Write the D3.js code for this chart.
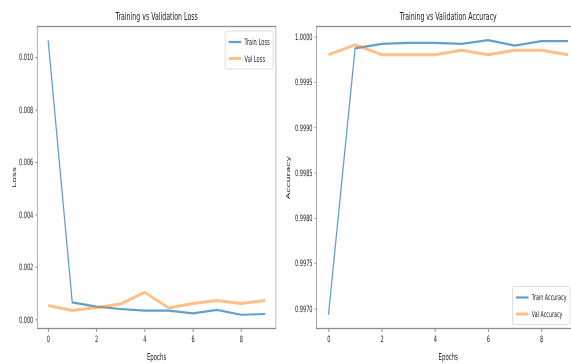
<!DOCTYPE html>
<html>
<head>
<meta charset="utf-8">
<script src="https://cdn.jsdelivr.net/npm/d3@7"></script>
<style>
    html, body { margin: 0; padding: 0; background: #ffffff; }
    svg { display: block; }
    text { font-family: "DejaVu Sans", sans-serif; fill: #222; }
</style>
</head>
<body>
<div id="chart"></div>
<script>
// data
var epochs = [0, 1, 2, 3, 4, 5, 6, 7, 8, 9];
var trainLoss = [0.01064, 0.00064, 0.00048, 0.00039, 0.00033, 0.00033, 0.00022, 0.00036, 0.00017, 0.00020];
var valLoss = [0.00052, 0.00033, 0.00045, 0.00058, 0.00103, 0.00043, 0.00060, 0.00071, 0.00060, 0.00071];
var trainAcc = [0.99693, 0.99987, 0.99992, 0.99993, 0.99993, 0.99992, 0.99996, 0.99990, 0.99995, 0.99995];
var valAcc = [0.99980, 0.99991, 0.99980, 0.99980, 0.99980, 0.99985, 0.99980, 0.99985, 0.99985, 0.99980];

var epochTicks = [0, 2, 4, 6, 8];
var lossTicks = [0.000, 0.002, 0.004, 0.006, 0.008, 0.010];
var accTicks = [0.9970, 0.9975, 0.9980, 0.9985, 0.9990, 0.9995, 1.0000];

var WIDTH = 571, HEIGHT = 364;
// the original figure is squeezed horizontally, so draw in a wider space and scale x
var SX = 0.57;
var TRAIN_COLOR = "#1f77b4", VAL_COLOR = "#ff7f0e";

var svg = d3.select("#chart").append("svg")
    .attr("width", WIDTH)
    .attr("height", HEIGHT);

var defs = svg.append("defs");
defs.append("filter").attr("id", "soft")
    .attr("x", "-5%").attr("y", "-5%").attr("width", "110%").attr("height", "110%")
    .append("feGaussianBlur").attr("stdDeviation", 0.45);

var root = svg.append("g").attr("filter", "url(#soft)")
    .append("g").attr("transform", "scale(" + SX + ",1)");

function padded(values) {
    var lo = d3.min(values), hi = d3.max(values);
    var pad = (hi - lo) * 0.05;
    return [lo - pad, hi + pad];
}

function drawPanel(opts) {
    var top = 26.5, bottom = 328.5;
    var x0 = opts.left / SX, x1 = opts.right / SX;
    var g = root.append("g");

    var x = d3.scaleLinear().domain([-0.45, 9.45]).range([x0, x1]);
    var y = d3.scaleLinear().domain(padded(opts.train.concat(opts.val))).range([bottom, top]);

    // axes
    var yAxis = g.append("g")
        .attr("transform", "translate(" + x0 + ",0)")
        .call(d3.axisLeft(y).tickValues(opts.ticks).tickSize(3.5).tickPadding(3.5)
            .tickFormat(d3.format(opts.fmt)));
    var xAxis = g.append("g")
        .attr("transform", "translate(0," + bottom + ")")
        .call(d3.axisBottom(x).tickValues(epochTicks).tickSize(3.5).tickPadding(3.5)
            .tickFormat(d3.format("d")));
    [yAxis, xAxis].forEach(function (a) {
        a.select(".domain").remove();
        a.selectAll("line").attr("stroke", "#777").attr("stroke-width", 1);
        a.selectAll("text").attr("font-size", 8.8).style("fill", "#222");
    });

    // lines
    var line = d3.line()
        .x(function (d, i) { return x(epochs[i]); })
        .y(function (d) { return y(d); });
    g.append("path").datum(opts.train)
        .attr("d", line)
        .attr("fill", "none")
        .attr("stroke", TRAIN_COLOR)
        .attr("stroke-opacity", 0.7)
        .attr("stroke-width", 2.2);
    g.append("path").datum(opts.val)
        .attr("d", line)
        .attr("fill", "none")
        .attr("stroke", VAL_COLOR)
        .attr("stroke-opacity", 0.5)
        .attr("stroke-width", 3);

    // spines
    g.append("rect")
        .attr("x", x0).attr("y", top)
        .attr("width", x1 - x0).attr("height", bottom - top)
        .attr("fill", "none")
        .attr("stroke", "#8c8c8c")
        .attr("stroke-width", 1.3);

    // titles and labels
    g.append("text")
        .attr("x", (x0 + x1) / 2).attr("y", 20.5)
        .attr("text-anchor", "middle")
        .attr("font-size", 11)
        .text(opts.title);
    g.append("text")
        .attr("x", (x0 + x1) / 2).attr("y", 360)
        .attr("text-anchor", "middle")
        .attr("font-size", 9.5)
        .text("Epochs");
    g.append("text")
        .attr("transform", "translate(" + opts.ylabelX / SX + "," + (top + bottom) / 2 + ") rotate(-90)")
        .attr("text-anchor", "middle")
        .attr("font-size", 9.5)
        .text(opts.ylabel);

    // legend
    var legH = 38, legX, legY;
    var items = [
        {label: opts.names[0], color: TRAIN_COLOR, op: 0.7, w: 2.2},
        {label: opts.names[1], color: VAL_COLOR, op: 0.5, w: 3}
    ];
    var leg = g.append("g");
    var box = leg.append("rect")
        .attr("rx", 2.5).attr("ry", 2.5)
        .attr("fill", "#ffffff").attr("fill-opacity", 0.85)
        .attr("stroke", "#d6d6d6").attr("stroke-width", 1);
    var maxW = 0;
    var texts = items.map(function (it, i) {
        var t = leg.append("text")
            .attr("font-size", opts.legendFont)
            .attr("dy", "0.35em")
            .text(it.label);
        maxW = Math.max(maxW, t.node().getComputedTextLength());
        return t;
    });
    var legW = 6 + 22 + 6 + maxW + 6;
    // right panel runs past the window edge, so its legend is pinned by its left side
    legX = opts.legendLeft ? opts.legendLeft / SX : x1 - 5 - legW;
    legY = opts.legendBottom ? bottom - 4 - legH : top + 4.5;
    box.attr("x", legX).attr("y", legY).attr("width", legW).attr("height", legH);
    items.forEach(function (it, i) {
        var cy = legY + 11 + i * 16.5;
        leg.append("line")
            .attr("x1", legX + 6).attr("x2", legX + 28)
            .attr("y1", cy).attr("y2", cy)
            .attr("stroke", it.color)
            .attr("stroke-opacity", it.op)
            .attr("stroke-width", it.w);
        texts[i].attr("x", legX + 34).attr("y", cy);
    });
}

drawPanel({
    left: 37.3, right: 276,
    train: trainLoss, val: valLoss,
    ticks: lossTicks, fmt: ".3f",
    title: "Training vs Validation Loss",
    ylabel: "Loss", ylabelX: 16,
    names: ["Train Loss", "Val Loss"],
    legendFont: 9,
    legendBottom: false
});

drawPanel({
    left: 316.5, right: 580,
    train: trainAcc, val: valAcc,
    ticks: accTicks, fmt: ".4f",
    title: "Training vs Validation Accuracy",
    ylabel: "Accuracy", ylabelX: 289.5,
    names: ["Train Accuracy", "Val Accuracy"],
    legendFont: 8.4,
    legendLeft: 512.5,
    legendBottom: true
});
</script>
</body>
</html>
